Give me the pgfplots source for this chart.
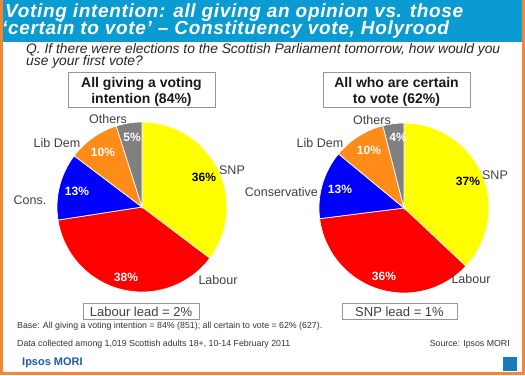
\documentclass[border=0pt]{standalone}
\usepackage{pgfplots}
\pgfplotsset{compat=1.18}
\usepackage{pgfplotstable}
\usepackage{fontspec}
\setmainfont{Liberation Sans}
\definecolor{pyellow}{RGB}{255,255,0}
\definecolor{pred}{RGB}{255,0,0}
\definecolor{pblue}{RGB}{0,0,255}
\definecolor{porange}{RGB}{255,140,25}
\definecolor{pgray}{RGB}{128,128,128}
\definecolor{labgray}{RGB}{64,64,64}
\definecolor{titleblue}{RGB}{10,155,210}
\definecolor{frameorange}{RGB}{240,135,50}
\definecolor{boxgray}{RGB}{150,150,150}
\definecolor{ipsosblue}{RGB}{30,90,170}

\pgfplotstableread[col sep=comma]{
party,value,fc,tc,lx,ly,la,px,py
SNP,36,pyellow,black,90,37,center,62,30
Labour,38,pred,white,76,-73,center,-16,-70
Cons.,13,pblue,white,-112,7,center,-65,16
Lib Dem,10,porange,white,-85,64,center,-39,55
Others,5,pgray,white,-34,88,center,-10,70
}\tabA

\pgfplotstableread[col sep=comma]{
party,value,fc,tc,lx,ly,la,px,py
SNP,37,pyellow,black,91,33,center,64,27
Labour,36,pred,white,67,-71,center,-20,-68
Conservative,13,pblue,white,-86,16,east,-64,19
Lib Dem,10,porange,white,-84,65,center,-35,58
Others,4,pgray,white,-32,88,center,-6,71
}\tabB

\newcommand{\drawpie}[1]{%
  \pgfplotstablegetrowsof{#1}%
  \pgfmathtruncatemacro{\nrows}{\pgfplotsretval-1}%
  \xdef\tot{0}%
  \foreach \i in {0,...,\nrows}{%
    \pgfplotstablegetelem{\i}{value}\of{#1}%
    \pgfmathsetmacro{\tmp}{\tot+\pgfplotsretval}%
    \xdef\tot{\tmp}%
  }%
  \xdef\cum{0}%
  \foreach \i in {0,...,\nrows}{%
    \pgfplotstablegetelem{\i}{value}\of{#1}\let\val\pgfplotsretval
    \pgfplotstablegetelem{\i}{fc}\of{#1}\let\fcol\pgfplotsretval
    \pgfmathsetmacro{\sa}{90-360*(\cum/\tot)}%
    \pgfmathsetmacro{\ea}{90-360*((\cum+\val)/\tot)}%
    \fill[fill=\fcol, draw=white, line width=0.7pt] (axis cs:0,0) -- (axis cs:{85*cos(\sa)},{85*sin(\sa)}) arc[start angle=\sa, end angle=\ea, radius=85pt] -- cycle;
    \pgfmathsetmacro{\nc}{\cum+\val}%
    \xdef\cum{\nc}%
  }%
  \foreach \i in {0,...,\nrows}{%
    \pgfplotstablegetelem{\i}{value}\of{#1}\let\val\pgfplotsretval
    \pgfplotstablegetelem{\i}{party}\of{#1}\let\pname\pgfplotsretval
    \pgfplotstablegetelem{\i}{tc}\of{#1}\let\tcol\pgfplotsretval
    \pgfplotstablegetelem{\i}{lx}\of{#1}\let\lx\pgfplotsretval
    \pgfplotstablegetelem{\i}{ly}\of{#1}\let\ly\pgfplotsretval
    \pgfplotstablegetelem{\i}{la}\of{#1}\let\la\pgfplotsretval
    \pgfplotstablegetelem{\i}{px}\of{#1}\let\px\pgfplotsretval
    \pgfplotstablegetelem{\i}{py}\of{#1}\let\py\pgfplotsretval
    \node[anchor=\la, text=labgray, font=\fontsize{12.5}{14}\selectfont, inner sep=0pt] at (axis cs:\lx,\ly) {\pname};
    \node[text=\tcol, font=\fontsize{12}{14}\selectfont\bfseries, inner sep=0pt] at (axis cs:\px,\py) {\val\%};
  }%
}

\begin{document}
\begin{tikzpicture}
% frame
\useasboundingbox (0pt,0pt) rectangle (525pt,-375pt);
\fill[frameorange] (0pt,0pt) rectangle (525pt,-375pt);
\fill[white] (3pt,0pt) rectangle (522pt,-372pt);
\fill[titleblue] (3pt,0pt) rectangle (522pt,-42pt);
% title
\node[anchor=base west, inner sep=0pt, text=white, font=\fontsize{19}{20}\selectfont\bfseries\itshape\addfontfeature{LetterSpace=3.5}] at (5pt,-17.5pt) {Voting intention: all giving an opinion vs. those};
\node[anchor=base west, inner sep=0pt, text=white, font=\fontsize{19}{20}\selectfont\bfseries\itshape\addfontfeature{LetterSpace=3.5}] at (2pt,-34.5pt) {‘certain to vote’ – Constituency vote, Holyrood};
% question
\node[anchor=base west, inner sep=0pt, text=black!85, font=\fontsize{13.8}{15}\selectfont\itshape] at (26pt,-53.5pt) {Q. If there were elections to the Scottish Parliament tomorrow, how would you};
\node[anchor=base west, inner sep=0pt, text=black!85, font=\fontsize{13.8}{15}\selectfont\itshape] at (26pt,-65pt) {use your first vote?};
% header boxes
\draw[boxgray, line width=0.8pt] (68pt,-72pt) rectangle (215pt,-107pt);
\draw[boxgray, line width=0.8pt] (323pt,-72pt) rectangle (470pt,-107pt);
\node[anchor=base, inner sep=0pt, font=\fontsize{14}{16}\selectfont\bfseries, text=black!90] at (141.5pt,-87pt) {All giving a voting};
\node[anchor=base, inner sep=0pt, font=\fontsize{14}{16}\selectfont\bfseries, text=black!90] at (141.5pt,-103pt) {intention (84\%)};
\node[anchor=base, inner sep=0pt, font=\fontsize{14}{16}\selectfont\bfseries, text=black!90] at (396.5pt,-87pt) {All who are certain};
\node[anchor=base, inner sep=0pt, font=\fontsize{14}{16}\selectfont\bfseries, text=black!90] at (396.5pt,-103pt) {to vote (62\%)};
% pies
\begin{axis}[at={(142pt,-207pt)}, anchor=center, x=1pt, y=1pt, xmin=-100, xmax=100, ymin=-100, ymax=100, hide axis, clip=false]
\pgfplotsextra{\drawpie{\tabA}}
\end{axis}
\begin{axis}[at={(404pt,-208pt)}, anchor=center, x=1pt, y=1pt, xmin=-100, xmax=100, ymin=-100, ymax=100, hide axis, clip=false]
\pgfplotsextra{\drawpie{\tabB}}
\end{axis}
% lead boxes
\draw[boxgray, line width=0.8pt] (83pt,-303pt) rectangle (199pt,-319pt);
\draw[boxgray, line width=0.8pt] (342pt,-303pt) rectangle (457pt,-319pt);
\node[anchor=base, inner sep=0pt, font=\fontsize{13}{15}\selectfont, text=labgray] at (141pt,-316pt) {Labour lead = 2\%};
\node[anchor=base, inner sep=0pt, font=\fontsize{13}{15}\selectfont, text=labgray] at (399.5pt,-316pt) {SNP lead = 1\%};
% footnotes
\node[anchor=base west, inner sep=0pt, font=\fontsize{8.8}{10}\selectfont, text=black!80] at (17pt,-328pt) {Base: All giving a voting intention = 84\% (851); all certain to vote = 62\% (627).};
\node[anchor=base west, inner sep=0pt, font=\fontsize{8.8}{10}\selectfont, text=black!80] at (17pt,-346pt) {Data collected among 1,019 Scottish adults 18+, 10-14 February 2011};
\node[anchor=base east, inner sep=0pt, font=\fontsize{8.8}{10}\selectfont, text=black!80] at (510pt,-346pt) {Source: Ipsos MORI};
\node[anchor=base west, inner sep=0pt, font=\fontsize{11}{12}\selectfont\bfseries, text=ipsosblue] at (22pt,-365pt) {Ipsos MORI};
\fill[ipsosblue!80!cyan] (503pt,-357pt) rectangle (517pt,-371pt);
\end{tikzpicture}
\end{document}
